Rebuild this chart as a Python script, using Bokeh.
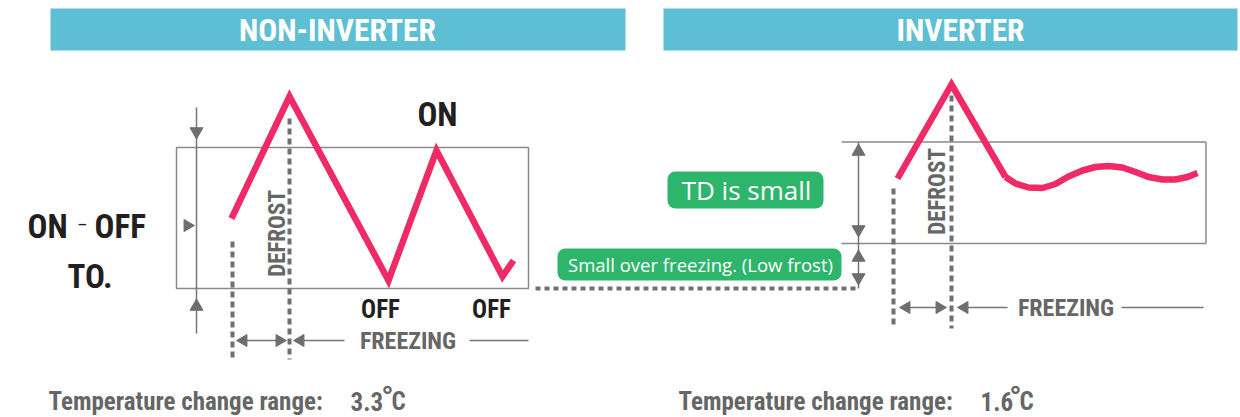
import math
from bokeh.plotting import figure
from bokeh.models import Range1d, BoxAnnotation
from bokeh.core.properties import value
from bokeh.embed import file_html
from bokeh.resources import INLINE

W, H = 1240, 417

# ---------------- data (pixel units of the drawing) -------------
panel_titles = ["NON-INVERTER", "INVERTER"]
# non-inverter temperature trace (on/off cycling)
non_inv_x = [231, 289, 388, 436, 502, 513]
non_inv_y = [218, 96, 280, 150, 276, 260]
# inverter temperature trace (defrost peak, then small ripple)
inv_peak_x = [897, 951, 1005]
inv_peak_y = [178, 84, 176.5]
inv_wave_x = [1005, 1015, 1028, 1042, 1055, 1068, 1082, 1095, 1108, 1122, 1135, 1148, 1162, 1175, 1187, 1197]
inv_wave_y = [176.5, 183, 187, 187.5, 183.5, 176, 170, 166.5, 165.5, 167, 171.5, 176.5, 179, 179, 176.5, 172.5]
state_labels = ["ON", "OFF", "OFF"]
range_label = "Temperature change range:"
range_values = ["3.3", "1.6"]
td_label = "TD is small"
frost_label = "Small over freezing. (Low frost)"

# ---------------- styles ----------------
PINK = "#ee2a67"
GREY = "#777777"
BOXG = "#8a8a8a"
TXTG = "#666666"
BLACK = "#231f20"
GREEN = "#2db56b"
TEAL = "#5ebed4"
NARROW = value("Roboto Condensed, DejaVu Sans Condensed, Roboto")
ROUND = value("Open Sans")

p = figure(width=W, height=H, x_range=Range1d(0, W), y_range=Range1d(H, 0),
           output_backend="svg", toolbar_location=None, x_axis_location=None, y_axis_location=None,
           min_border=0, outline_line_color=None, background_fill_color="white",
           border_fill_color="white")
p.xgrid.visible = False
p.ygrid.visible = False


def txt(x, y, s, size, color, font=NARROW, style="bold", align="center", angle=0.0):
    p.text(x=[x], y=[y], text=[s], text_font=font, text_font_size=f"{size}px",
           text_font_style=style, text_color=color, text_align=align, text_baseline="middle",
           angle=angle)


def head(x, y, direction, size=13):
    ang = {"up": 0.0, "down": math.pi, "left": math.pi / 2, "right": -math.pi / 2}[direction]
    p.scatter(x=[x], y=[y], marker="triangle", size=size, angle=ang,
              fill_color="#6e6e6e", line_color="#6e6e6e")


def seg(x0, y0, x1, y1, color=GREY, width=1.5, dash="solid"):
    p.segment(x0=[x0], y0=[y0], x1=[x1], y1=[y1], line_color=color, line_width=width,
              line_dash=dash, line_cap="butt")


# ---------------- headers ----------------
p.quad(left=[50, 663], right=[625, 1237], top=[8, 8], bottom=[50, 50], fill_color=TEAL, line_color=None)
txt(337, 30, panel_titles[0], 31.5, "white")
txt(960, 30, panel_titles[1], 31.5, "white")

# ---------------- NON-INVERTER ----------------
p.quad(left=[176], right=[528], top=[147], bottom=[288], fill_color=None, line_color=BOXG, line_width=1.5)
# range arrows
seg(196, 107, 196, 333)
head(196, 131, "down")
head(196, 306, "up")
head(187, 225, "right", 12)
# dotted verticals
seg(232, 241, 232, 359, "#707070", 4, "6 4")
seg(289, 118, 289, 359, "#707070", 4, "6 4")
# trace
p.line(non_inv_x, non_inv_y, line_color=PINK, line_width=6.5, line_join="miter", line_cap="butt")
txt(277, 233, "DEFROST", 23, TXTG, angle=math.pi / 2)
txt(437, 114, state_labels[0], 33, BLACK)
txt(380, 309, state_labels[1], 25, BLACK)
txt(491, 309, state_labels[2], 25, BLACK)
txt(27, 226, "ON", 33, BLACK, align="left")
txt(82, 224, "\u2013", 18, BLACK, style="normal")
txt(94, 226, "OFF", 33, BLACK, align="left")
txt(67, 276, "TO.", 33, BLACK, align="left")
# freezing arrows
seg(237, 340, 285, 340)
head(243, 340, "left", 12)
head(279, 340, "right", 12)
seg(295, 340, 344, 340)
head(300, 340, "left", 12)
seg(469, 340, 528, 340)
txt(407.5, 340, "FREEZING", 24, TXTG)
txt(48, 401, range_label, 25, TXTG, align="left")
txt(350, 401, range_values[0], 25, TXTG, align="left")
txt(387, 396, "\u00b0", 32, TXTG)
txt(391, 401, "C", 25, TXTG, align="left")

# link dotted line
seg(535, 288, 855, 288, "#707070", 4, "5 4")

# ---------------- INVERTER ----------------
seg(841, 141.5, 1205.5, 141.5, BOXG, 1.5)
seg(841, 243, 1205.5, 243, BOXG, 1.5)
seg(1205.5, 141.5, 1205.5, 243, BOXG, 1.5)
seg(858, 141.5, 858, 288)
head(858, 151, "up")
head(858, 229, "down")
head(858, 257, "up")
head(858, 277, "down")
seg(893, 188, 893, 328, "#707070", 4, "6 4")
seg(951, 95, 951, 328, "#707070", 4, "6 4")
p.line(inv_peak_x, inv_peak_y, line_color=PINK, line_width=6.5, line_join="miter", line_cap="butt")
p.line(inv_wave_x, inv_wave_y, line_color=PINK, line_width=6.5, line_join="round", line_cap="butt")
txt(937, 191, "DEFROST", 23, TXTG, angle=math.pi / 2)
seg(901, 307, 945, 307)
head(906, 307, "left", 12)
head(939, 307, "right", 12)
seg(958, 307, 1007, 307)
head(964, 307, "left", 12)
seg(1121, 307, 1203, 307)
txt(1065.5, 307, "FREEZING", 24, TXTG)
txt(678, 401, range_label, 25, TXTG, align="left")
txt(980, 401, range_values[1], 25, TXTG, align="left")
txt(1015, 396, "\u00b0", 32, TXTG)
txt(1019, 401, "C", 25, TXTG, align="left")

# green badges (rounded, drawn under the texts)
p.add_layout(BoxAnnotation(left=667, right=823, top=171, bottom=208, fill_color=GREEN, fill_alpha=1,
                           line_color=None, border_radius=8, level="underlay"))
txt(746, 189, td_label, 26, "white", font=ROUND, style="normal")
p.add_layout(BoxAnnotation(left=557, right=841, top=248, bottom=280, fill_color=GREEN, fill_alpha=1,
                           line_color=None, border_radius=8, level="underlay"))
txt(700, 264, frost_label, 18.5, "white", font=ROUND, style="normal")

open("out.html", "w").write(file_html(p, INLINE))
